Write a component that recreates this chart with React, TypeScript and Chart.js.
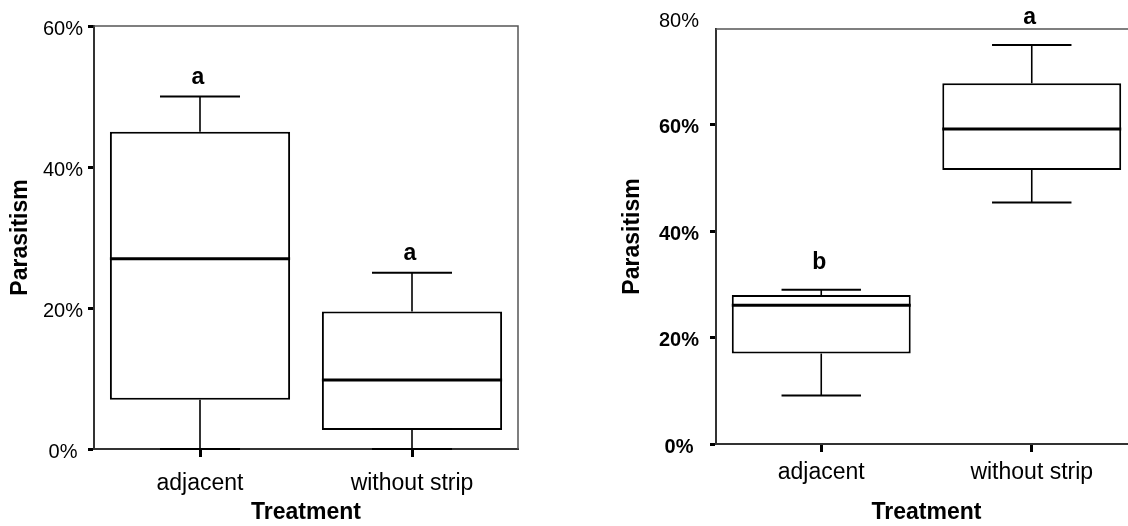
import React, { useEffect, useRef } from "react";
import { Chart, registerables } from "chart.js";

Chart.register(...registerables);

const FONT = "'Liberation Sans', Arial, Helvetica, sans-serif";
Chart.defaults.font.family = FONT;
Chart.defaults.color = "#000";

// Shared categories
const treatments = ["adjacent", "without strip"];

// Left panel: parasitism (%) five-number summaries
const leftMin = [0, 0];
const leftQ1 = [7, 2.7];
const leftMedian = [27, 9.8];
const leftQ3 = [45, 19.5];
const leftMax = [50, 25];
const leftLetters = ["a", "a"];
const leftTicks = [0, 20, 40, 60];
const leftTop = 60;

// Right panel: parasitism (%) five-number summaries
const rightMin = [9.1, 45.4];
const rightQ1 = [17, 51.5];
const rightMedian = [26.1, 59.2];
const rightQ3 = [28, 67.8];
const rightMax = [29, 75];
const rightLetters = ["b", "a"];
const rightTicks = [0, 20, 40, 60, 80];
const rightTop = 78;

type Stats = {
  min: number[];
  q1: number[];
  median: number[];
  q3: number[];
  max: number[];
  letters: string[];
};

// Draws whiskers, caps, medians and the significance letters over the boxes
const whiskerPlugin = {
  id: "whiskers",
  afterDatasetsDraw(chart: any, _args: any, opts: any) {
    const s: Stats = opts.stats;
    if (!s) return;
    const { ctx } = chart;
    const y = chart.scales.y;
    const meta = chart.getDatasetMeta(0);
    const line = (x1: number, y1: number, x2: number, y2: number) => {
      ctx.beginPath();
      ctx.moveTo(x1, y1);
      ctx.lineTo(x2, y2);
      ctx.stroke();
    };
    ctx.save();
    ctx.strokeStyle = "#000";
    ctx.fillStyle = "#000";
    meta.data.forEach((bar: any, i: number) => {
      const cx = bar.x;
      const half = bar.width / 2;
      const capHalf = bar.width * 0.222;
      const yMin = y.getPixelForValue(s.min[i]);
      const yQ1 = y.getPixelForValue(s.q1[i]);
      const yMed = y.getPixelForValue(s.median[i]);
      const yQ3 = y.getPixelForValue(s.q3[i]);
      const yMax = y.getPixelForValue(s.max[i]);
      ctx.lineWidth = 1.6;
      line(cx, yQ3, cx, yMax);
      line(cx, yQ1, cx, yMin);
      ctx.lineWidth = 2;
      line(cx - capHalf, yMax, cx + capHalf, yMax);
      line(cx - capHalf, yMin, cx + capHalf, yMin);
      ctx.lineWidth = 3;
      line(cx - half, yMed, cx + half, yMed);
      ctx.font = `bold 23px ${FONT}`;
      ctx.textAlign = "center";
      ctx.textBaseline = "middle";
      ctx.fillText(s.letters[i], cx - 2, yMax - opts.letterGap);
    });
    ctx.restore();
  },
};

// Top and right edges of the plot frame
const framePlugin = {
  id: "frame",
  afterDraw(chart: any) {
    const { ctx, chartArea: a } = chart;
    ctx.save();
    ctx.strokeStyle = "#555";
    ctx.lineWidth = 1.5;
    ctx.beginPath();
    ctx.moveTo(a.left, a.top);
    ctx.lineTo(a.right, a.top);
    ctx.lineTo(a.right, a.bottom);
    ctx.stroke();
    ctx.restore();
  },
};

type PanelSpec = {
  stats: Stats;
  ticks: number[];
  top: number;
  yAxisWidth: number;
  xAxisHeight: number;
  padTop: number;
  padRight: number;
  yTitlePad: number;
  yTickPad: number;
  xTickPad: number;
  letterGap: number;
  boldTicks: boolean;
};

function makeConfig(p: PanelSpec): any {
  const s = p.stats;
  return {
    type: "bar",
    data: {
      labels: treatments,
      datasets: [
        {
          data: s.q1.map((v, i) => [v, s.q3[i]]),
          backgroundColor: "#fff",
          borderColor: "#000",
          borderWidth: 2,
          borderSkipped: false,
          barPercentage: 0.85,
          categoryPercentage: 1,
        },
      ],
    },
    options: {
      responsive: false,
      animation: false,
      layout: { padding: { top: p.padTop, right: p.padRight, left: 0, bottom: 0 } },
      plugins: {
        legend: { display: false },
        tooltip: { enabled: false },
        whiskers: { stats: s, letterGap: p.letterGap },
      },
      scales: {
        x: {
          type: "category",
          offset: true,
          grid: {
            offset: false,
            drawOnChartArea: false,
            tickLength: 8,
            tickWidth: 3,
            tickColor: "#000",
          },
          border: { display: true, color: "#333", width: 2 },
          ticks: { font: { size: 23 }, padding: p.xTickPad, color: "#000" },
          title: {
            display: true,
            text: "Treatment",
            font: { size: 23, weight: "bold" },
            padding: { top: 0, bottom: 0 },
            color: "#000",
          },
          afterFit: (scale: any) => {
            scale.height = p.xAxisHeight;
          },
        },
        y: {
          min: 0,
          max: p.top,
          afterBuildTicks: (scale: any) => {
            scale.ticks = p.ticks.map((v) => ({ value: v }));
          },
          grid: {
            drawOnChartArea: false,
            tickLength: 6,
            tickWidth: 3,
            tickColor: (ctx: any) =>
              ctx.tick && ctx.tick.value > p.top ? "rgba(0,0,0,0)" : "#000",
          },
          border: { display: true, color: "#333", width: 2 },
          ticks: {
            padding: p.yTickPad,
            crossAlign: "center",
            labelOffset: 3,
            color: "#000",
            font: (ctx: any) => ({
              size: 20,
              weight:
                p.boldTicks && ctx.tick && ctx.tick.value <= p.top ? "bold" : "normal",
            }),
            callback: (v: any) => `${v}%`,
          },
          title: {
            display: true,
            text: "Parasitism",
            font: { size: 23, weight: "bold" },
            padding: { top: p.yTitlePad, bottom: 0 },
            color: "#000",
          },
          afterFit: (scale: any) => {
            scale.width = p.yAxisWidth;
          },
        },
      },
    },
    plugins: [whiskerPlugin, framePlugin],
  };
}

const leftSpec: PanelSpec = {
  stats: {
    min: leftMin,
    q1: leftQ1,
    median: leftMedian,
    q3: leftQ3,
    max: leftMax,
    letters: leftLetters,
  },
  ticks: leftTicks,
  top: leftTop,
  yAxisWidth: 94,
  xAxisHeight: 77,
  padTop: 26,
  padRight: 42,
  yTitlePad: 7,
  yTickPad: 5,
  xTickPad: 13,
  letterGap: 19,
  boldTicks: false,
};

const rightSpec: PanelSpec = {
  stats: {
    min: rightMin,
    q1: rightQ1,
    median: rightMedian,
    q3: rightQ3,
    max: rightMax,
    letters: rightLetters,
  },
  ticks: rightTicks,
  top: rightTop,
  yAxisWidth: 116,
  xAxisHeight: 82,
  padTop: 29,
  padRight: 23,
  yTitlePad: 19,
  yTickPad: 11,
  xTickPad: 7,
  letterGap: 27,
  boldTicks: true,
};

function BoxPanel({ left, width, spec }: { left: number; width: number; spec: PanelSpec }) {
  const ref = useRef<HTMLCanvasElement>(null);
  useEffect(() => {
    const chart = new Chart(ref.current as HTMLCanvasElement, makeConfig(spec));
    return () => chart.destroy();
  }, [spec]);
  return (
    <canvas
      ref={ref}
      width={width}
      height={526}
      style={{ position: "absolute", left, top: 0, width, height: 526 }}
    />
  );
}

export default function App() {
  return (
    <div
      style={{
        position: "fixed",
        left: 0,
        top: 0,
        width: 1128,
        height: 526,
        overflow: "hidden",
        background: "#fff",
      }}
    >
      <BoxPanel left={0} width={560} spec={leftSpec} />
      <BoxPanel left={600} width={560} spec={rightSpec} />
    </div>
  );
}
